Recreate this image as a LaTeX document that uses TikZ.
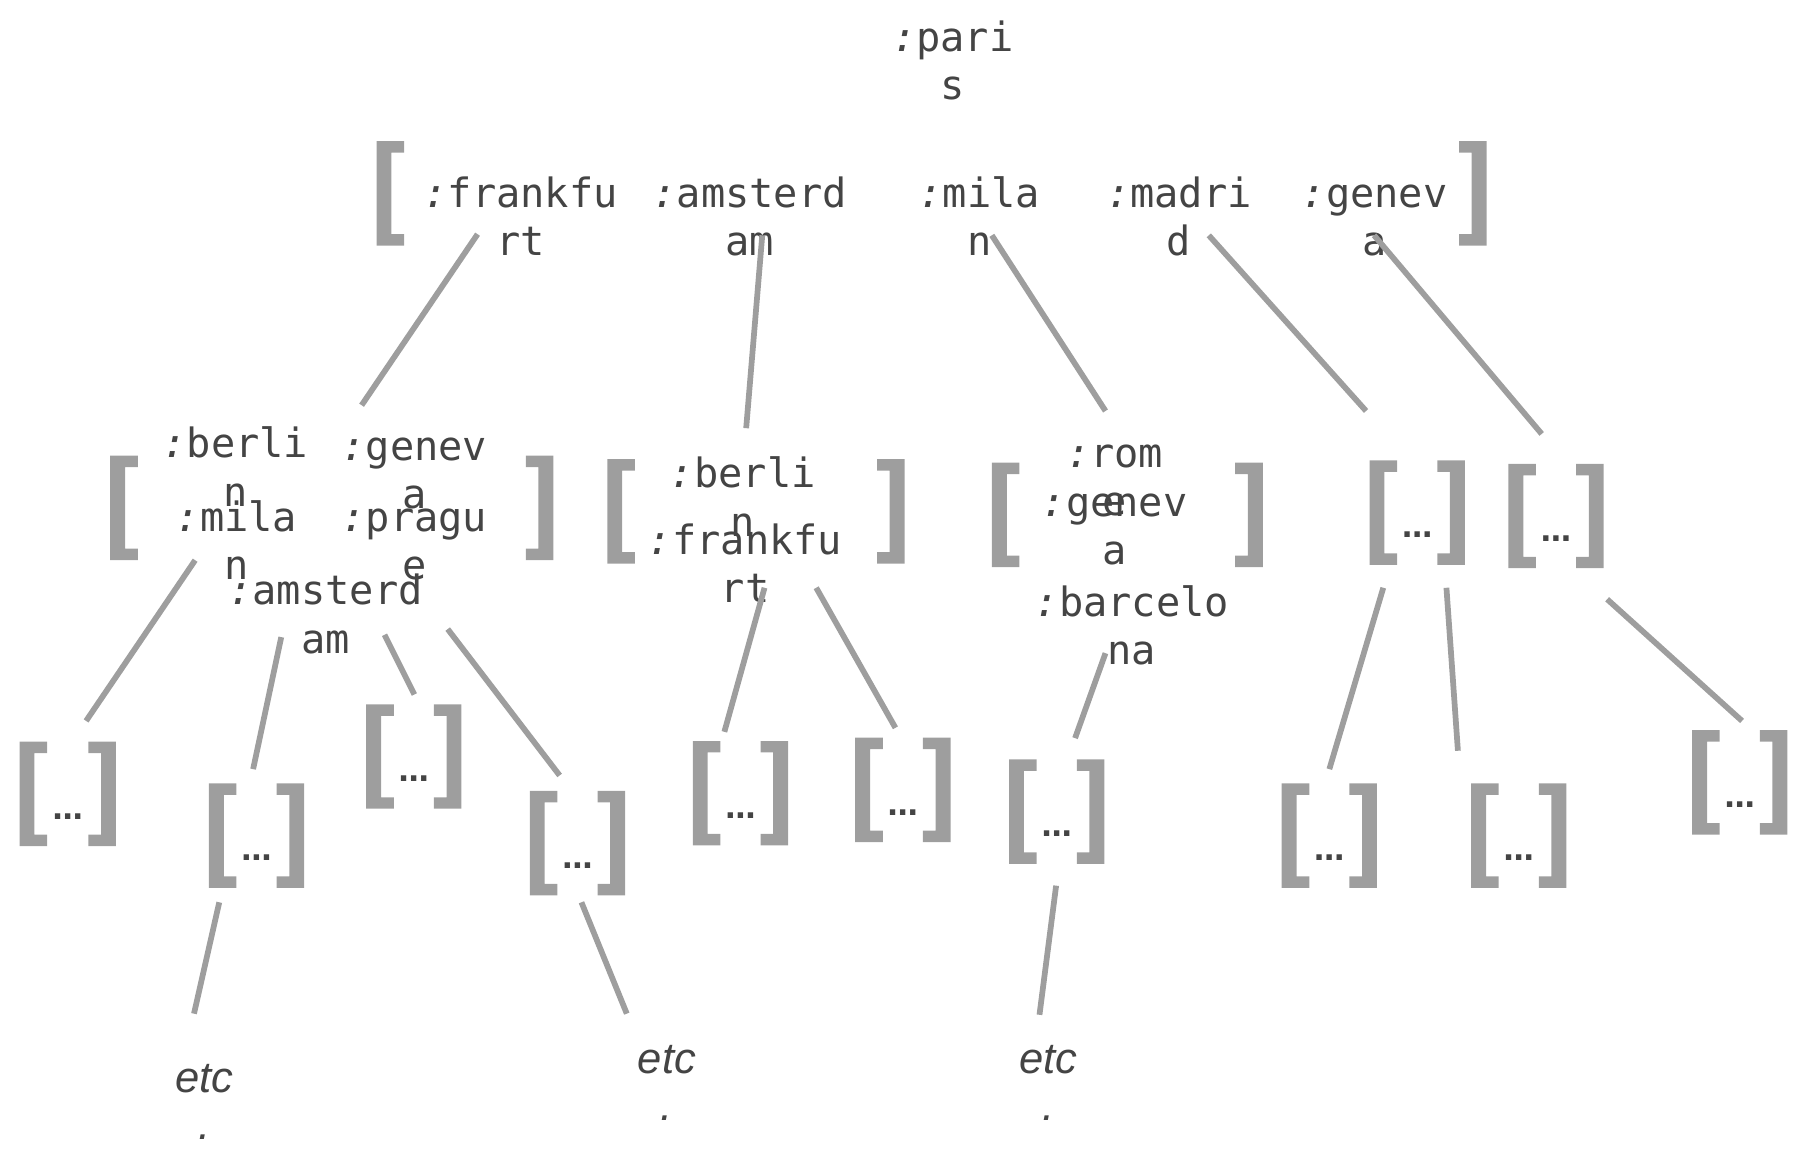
\documentclass[tikz,border=0pt]{standalone}
\usepackage{fontspec}
\newfontfamily\citymono{DejaVu Sans Mono}
\newfontfamily\dotsans{DejaVu Sans}
\newfontfamily\etcsans{Liberation Sans}
\definecolor{ink}{HTML}{444444}
\definecolor{brkgray}{HTML}{9E9E9E}
\newcommand\ky[1]{\textit{:}#1}

\tikzset{
  city/.style={font=\citymono\fontsize{10}{12}\selectfont, text=ink, align=center, inner sep=0pt, anchor=base},
  dots/.style={font=\dotsans\bfseries\fontsize{7.5}{9}\selectfont, text=ink, inner sep=0pt},
  etc/.style={font=\etcsans\itshape\fontsize{10.8}{11.7}\selectfont, text=ink, align=center, inner sep=0pt, anchor=base},
  edge/.style={draw=brkgray, line width=0.5mm},
  brk/.pic={
    \fill[brkgray] (0,0) -- ++(24,0) -- ++(0,10) -- ++(-11,0) -- ++(0,71) -- ++(11,0) -- ++(0,10) -- ++(-24,0) -- cycle;
    \fill[brkgray] (#1,0) -- ++(-24,0) -- ++(0,10) -- ++(11,0) -- ++(0,71) -- ++(-11,0) -- ++(0,10) -- ++(24,0) -- cycle;
  }
}

\begin{document}
\begin{tikzpicture}[x=0.1mm, y=-0.1mm]
\useasboundingbox (0,0) rectangle (1568,1015);

% root (base = last line)
\node[city] (paris) at (830,87) {\ky{pari}\\s};

% first level
\pic at (328,123) {brk=967};
\node[city] (frankfurt) at (453.5,223) {\ky{frankfu}\\rt};
\node[city] (amsterdam) at (653,223) {\ky{amsterd}\\am};
\node[city] (milan) at (853,223) {\ky{mila}\\n};
\node[city] (madrid) at (1027,223) {\ky{madri}\\d};
\node[city] (geneva) at (1197.5,223) {\ky{genev}\\a};

% second level
\pic at (96,397) {brk=386};
\node[city] (berlinA) at (205,441) {\ky{berli}\\n};
\node[city] (genevaA) at (361,443) {\ky{genev}\\a};
\node[city] (milanA) at (206,505) {\ky{mila}\\n};
\node[city] (pragueA) at (361,505) {\ky{pragu}\\e};
\node[city] (amsterdamA) at (283.5,569) {\ky{amsterd}\\am};

\pic at (529,400) {brk=259};
\node[city] (berlinB) at (647,467) {\ky{berli}\\n};
\node[city] (frankfurtB) at (649,525) {\ky{frankfu}\\rt};

\pic at (864,403) {brk=236};
\node[city] (romeC) at (971,449) {\ky{rom}\\e};
\node[city] (genevaC) at (971,492) {\ky{genev}\\a};
\node[city] (barcelonaC) at (986,579) {\ky{barcelo}\\na};

\pic at (1193,401) {brk=83};
\node[dots] (restD) at (1234.5,466) {…};
\pic at (1314,404) {brk=83};
\node[dots] (restE) at (1355.5,469) {…};

% third level
\pic at (17,646) {brk=84};
\node[dots] (restA1) at (59,711) {…};
\pic at (182,682.5) {brk=83};
\node[dots] (restA2) at (223.5,747.5) {…};
\pic at (319,613.5) {brk=83};
\node[dots] (restA3) at (360.5,678.5) {…};
\pic at (461.5,689) {brk=83};
\node[dots] (restA4) at (503,754) {…};
\pic at (603.5,645.5) {brk=83};
\node[dots] (restB1) at (645,710.5) {…};
\pic at (745,642.5) {brk=83};
\node[dots] (restB2) at (786.5,707.5) {…};
\pic at (879,661.5) {brk=83};
\node[dots] (restC1) at (920.5,726.5) {…};
\pic at (1116.5,682.5) {brk=83};
\node[dots] (restD1) at (1158,747.5) {…};
\pic at (1281.5,682.5) {brk=83};
\node[dots] (restD2) at (1323,747.5) {…};
\pic at (1474,636) {brk=83};
\node[dots] (restE1) at (1515.5,701) {…};

% etc
\node[etc] (etcA2) at (178,993) {etc\\.};
\node[etc] (etcA4) at (581,976) {etc\\.};
\node[etc] (etcC1) at (913,976) {etc\\.};

% connector ends
\coordinate (frankfurt-o) at (416,204);
\coordinate (amsterdam-o) at (664,205);
\coordinate (milan-o) at (864,205);
\coordinate (madrid-o) at (1053,205);
\coordinate (geneva-o) at (1197,205);
\coordinate (A-i) at (315,353);
\coordinate (B-i) at (650,373);
\coordinate (C-i) at (963,358);
\coordinate (D-i) at (1190,358);
\coordinate (E-i) at (1343,378);

\coordinate (A-o1) at (170,488);
\coordinate (A-o2) at (245,555);
\coordinate (A-o3) at (335,553);
\coordinate (A-o4) at (390,548);
\coordinate (B-o1) at (666,512);
\coordinate (B-o2) at (711,512);
\coordinate (C-o1) at (963,569);
\coordinate (D-o1) at (1205,512);
\coordinate (D-o2) at (1260,512);
\coordinate (E-o1) at (1400,522);
\coordinate (A1-i) at (75,628);
\coordinate (A2-i) at (220.5,670);
\coordinate (A3-i) at (361,605);
\coordinate (A4-i) at (487.5,675.5);
\coordinate (B1-i) at (631,637.5);
\coordinate (B2-i) at (780,634);
\coordinate (C1-i) at (936.5,643);
\coordinate (D1-i) at (1158,670);
\coordinate (D2-i) at (1270,654);
\coordinate (E1-i) at (1517.5,628);

\coordinate (A2-o) at (191,786);
\coordinate (A4-o) at (506.5,786);
\coordinate (C1-o) at (920,771.5);
\coordinate (etcA2-i) at (169,883);
\coordinate (etcA4-i) at (546,883);
\coordinate (etcC1-i) at (905.5,884);

% connectors
\draw[edge] (frankfurt-o) -- (A-i);
\draw[edge] (amsterdam-o) -- (B-i);
\draw[edge] (milan-o) -- (C-i);
\draw[edge] (madrid-o) -- (D-i);
\draw[edge] (geneva-o) -- (E-i);

\draw[edge] (A-o1) -- (A1-i);
\draw[edge] (A-o2) -- (A2-i);
\draw[edge] (A-o3) -- (A3-i);
\draw[edge] (A-o4) -- (A4-i);
\draw[edge] (B-o1) -- (B1-i);
\draw[edge] (B-o2) -- (B2-i);
\draw[edge] (C-o1) -- (C1-i);
\draw[edge] (D-o1) -- (D1-i);
\draw[edge] (D-o2) -- (D2-i);
\draw[edge] (E-o1) -- (E1-i);

\draw[edge] (A2-o) -- (etcA2-i);
\draw[edge] (A4-o) -- (etcA4-i);
\draw[edge] (C1-o) -- (etcC1-i);
\end{tikzpicture}
\end{document}
